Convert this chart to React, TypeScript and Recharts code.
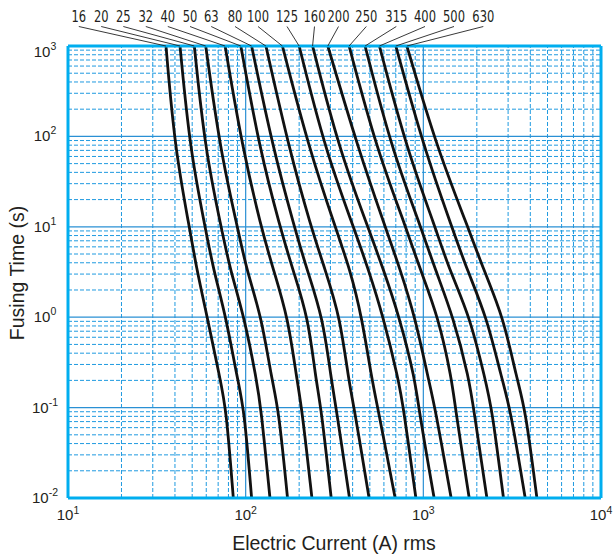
import React from "react";
import { Line, LineChart, ReferenceLine, XAxis, YAxis } from "recharts";

// fuse ratings (A) shown above the plot
const ratings = ["16", "20", "25", "32", "40", "50", "63", "80", "100", "125", "160", "200", "250", "315", "400", "500", "630"];

// fusing time (s) of the rows at which each curve was read
const fuseTimes = [1000, 71.6, 10, 3.37, 1, 0.205, 0.1, 0.01];

// current (A rms) of each curve at the rows above
const amps16 = [35.6, 40.0, 48.2, 53.0, 60.8, 71.8, 77.6, 85.2];
const amps20 = [42.7, 48.6, 59.1, 65.8, 77.6, 89.8, 98.0, 108];
const amps25 = [51.4, 59.1, 72.7, 81.7, 98.3, 115, 122, 137];
const amps32 = [59.6, 71.8, 89.8, 101, 123, 140, 153, 172];
const amps40 = [76.6, 96.3, 122, 143, 173, 194, 207, 236];
const amps50 = [93.9, 120, 156, 184, 225, 248, 266, 303];
const amps63 = [108, 143, 188, 221, 272, 303, 323, 384];
const amps80 = [130, 176, 233, 280, 340, 379, 408, 495];
const amps100 = [161, 228, 319, 387, 451, 513, 554, 694];
const amps125 = [200, 280, 404, 491, 596, 724, 773, 908];
const amps160 = [238, 336, 487, 596, 734, 899, 939, 1150];
const amps200 = [290, 431, 610, 741, 899, 1068, 1165, 1434];
const amps250 = [382, 547, 797, 959, 1216, 1447, 1511, 1812];
const amps315 = [470, 665, 968, 1165, 1478, 1812, 1915, 2279];
const amps400 = [566, 808, 1165, 1398, 1835, 2228, 2430, 2825];
const amps500 = [700, 1014, 1447, 1758, 2279, 2767, 3082, 3744];
const amps630 = [808, 1201, 1781, 2180, 2825, 3360, 3744, 4357];

const currentTicks = [10, 100, 1000, 10000];
const timeTicks = [0.01, 0.1, 1, 10, 100, 1000];

const curveAmps = [
  amps16, amps20, amps25, amps32, amps40, amps50, amps63, amps80, amps100,
  amps125, amps160, amps200, amps250, amps315, amps400, amps500, amps630,
];

const curves = ratings.map((rating, k) => ({
  rating,
  points: fuseTimes.map((time, j) => ({ amps: curveAmps[k][j], time })),
}));

// layout
const W = 615;
const H = 558;
const PLOT = { left: 68, top: 46, right: 601, bottom: 498 };
const labelX = [78.8, 101.2, 123.3, 145.8, 167.8, 190, 211.2, 235, 258, 287, 314.5, 338.5, 366.3, 396.3, 425, 454, 483.3];

const FONT = "'Liberation Sans', Arial, sans-serif";
const NARROW = "'Liberation Sans Narrow', 'DejaVu Sans Condensed', sans-serif";
const TEXT = "#231f20";
const GRID = "#1f9ae0";
const MAJOR = "#2a90d4";
const BORDER = "#00aeef";

const minorsBetween = (lo: number, hi: number) => {
  const out: number[] = [];
  for (let d = lo; d < hi; d *= 10) for (let m = 2; m <= 9; m++) out.push(d * m);
  return out;
};

const xMinor = minorsBetween(10, 10000);
const yMinor = minorsBetween(0.01, 1000);

const xOf = (amps: number) =>
  PLOT.left + ((Math.log10(amps) - 1) / 3) * (PLOT.right - PLOT.left);

function XTick({ x, payload }: any) {
  const exp = Math.round(Math.log10(payload.value));
  return (
    <text x={x} y={520} textAnchor="middle" fontFamily={FONT} fontSize={15} fill={TEXT}>
      <tspan>10</tspan>
      <tspan dy={-6} fontSize={10.5}>{exp}</tspan>
    </text>
  );
}

function YTick({ y, payload }: any) {
  const exp = Math.round(Math.log10(payload.value));
  const base = payload.value === 1000 ? y + 11 : y + 5;
  return (
    <text x={45} y={base} textAnchor="middle" fontFamily={FONT} fontSize={15} fill={TEXT}>
      <tspan>10</tspan>
      <tspan dy={-7} fontSize={10.5}>{exp}</tspan>
    </text>
  );
}

function Overlay() {
  return (
    <svg width={W} height={H} style={{ position: "absolute", left: 0, top: 0, pointerEvents: "none" }}>
      {curves.map((c, k) => (
        <g key={c.rating}>
          <line x1={labelX[k]} y1={26.5} x2={xOf(c.points[0].amps)} y2={PLOT.top} stroke="#222" strokeWidth={0.9} />
          <text
            transform={`translate(${labelX[k]},22) scale(0.8,1)`}
            textAnchor="middle"
            fontFamily={NARROW}
            fontSize={16}
            fill={TEXT}
          >
            {c.rating}
          </text>
        </g>
      ))}
      <text x={334} y={549.5} textAnchor="middle" fontFamily={FONT} fontSize={19.5} fill={TEXT}>
        Electric Current (A) rms
      </text>
      <text transform="translate(24,273) rotate(-90)" textAnchor="middle" fontFamily={FONT} fontSize={19.5} fill={TEXT}>
        Fusing Time (s)
      </text>
    </svg>
  );
}

export default function App() {
  return (
    <div style={{ position: "absolute", left: 0, top: 0, width: W, height: H, background: "#fff" }}>
      <LineChart width={W} height={H} margin={{ top: PLOT.top, right: W - PLOT.right, bottom: 0, left: 0 }}>
        <XAxis
          dataKey="amps"
          type="number"
          scale="log"
          domain={[10, 10000]}
          allowDataOverflow
          ticks={currentTicks}
          interval={0}
          height={H - PLOT.bottom}
          axisLine={false}
          tickLine={false}
          tick={<XTick />}
        />
        <YAxis
          type="number"
          scale="log"
          domain={[0.01, 1000]}
          allowDataOverflow
          ticks={timeTicks}
          interval={0}
          width={PLOT.left}
          axisLine={false}
          tickLine={false}
          tick={<YTick />}
        />
        {xMinor.map((v) => (
          <ReferenceLine key={`xm${v}`} x={v} stroke={GRID} strokeWidth={1} strokeDasharray="4 2" />
        ))}
        {yMinor.map((v) => (
          <ReferenceLine key={`ym${v}`} y={v} stroke={GRID} strokeWidth={1} strokeDasharray="4 2" />
        ))}
        {[100, 1000].map((v) => (
          <ReferenceLine key={`xM${v}`} x={v} stroke={MAJOR} strokeWidth={1.2} />
        ))}
        {[0.1, 1, 10, 100].map((v) => (
          <ReferenceLine key={`yM${v}`} y={v} stroke={MAJOR} strokeWidth={1.2} />
        ))}
        {curves.map((c) => (
          <Line
            key={c.rating}
            data={c.points}
            dataKey="time"
            type="basis"
            stroke="#111"
            strokeWidth={2.8}
            dot={false}
            activeDot={false}
            isAnimationActive={false}
          />
        ))}
        <ReferenceLine x={10} stroke={BORDER} strokeWidth={3} />
        <ReferenceLine x={10000} stroke={BORDER} strokeWidth={3} />
        <ReferenceLine y={0.01} stroke={BORDER} strokeWidth={3} />
        <ReferenceLine y={1000} stroke={BORDER} strokeWidth={3} />
      </LineChart>
      <Overlay />
    </div>
  );
}
